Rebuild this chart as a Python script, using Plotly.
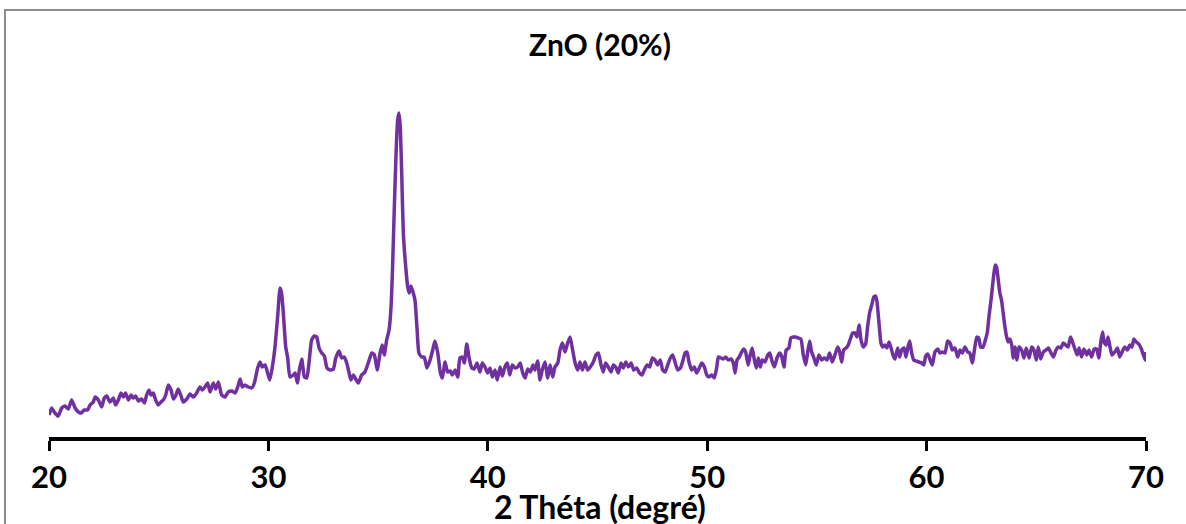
import plotly.graph_objects as go

# X-ray diffraction pattern of ZnO (20%): 2θ (degrees) and intensity (arb. units)
two_theta = [
    20.00, 20.12, 20.27, 20.42, 20.58, 20.73, 20.88, 21.03, 21.19, 21.34,
    21.46, 21.61, 21.76, 21.87, 22.02, 22.10, 22.25, 22.40, 22.52, 22.63,
    22.78, 22.93, 23.04, 23.16, 23.28, 23.39, 23.49, 23.62, 23.74, 23.84,
    23.95, 24.07, 24.22, 24.35, 24.45, 24.56, 24.65, 24.75, 24.86, 24.98,
    25.10, 25.21, 25.32, 25.44, 25.56, 25.67, 25.77, 25.89, 26.02, 26.12,
    26.28, 26.43, 26.58, 26.73, 26.88, 26.99, 27.11, 27.23, 27.34, 27.49,
    27.60, 27.72, 27.87, 28.02, 28.17, 28.33, 28.48, 28.60, 28.71, 28.81,
    28.93, 29.08, 29.24, 29.36, 29.51, 29.62, 29.72, 29.85,
    30.06, 30.18, 30.30, 30.42, 30.53, 30.60, 30.68, 30.79, 30.88, 30.98,
    31.14, 31.22, 31.32, 31.41, 31.52, 31.64, 31.75, 31.85, 31.97, 32.09,
    32.20, 32.31, 32.43, 32.55, 32.67, 32.81, 32.96, 33.07, 33.22, 33.34,
    33.46, 33.57, 33.67, 33.76, 33.87, 33.98, 34.10, 34.25, 34.40, 34.55,
    34.71, 34.83, 34.96, 35.09, 35.19, 35.28, 35.39, 35.50, 35.59, 35.66,
    35.74, 35.82, 35.89, 35.95, 36.01, 36.08, 36.15, 36.26, 36.35, 36.42,
    36.50, 36.59, 36.68, 36.77, 36.86, 36.99, 37.10, 37.23, 37.37, 37.49,
    37.59, 37.72, 37.84, 37.93, 38.05, 38.17, 38.29, 38.38, 38.51, 38.63,
    38.73, 38.84, 38.93, 39.04, 39.14, 39.27, 39.38, 39.51, 39.64, 39.75,
    39.87,
    39.99, 40.10, 40.21, 40.33, 40.43, 40.56, 40.66, 40.78, 40.89, 41.00,
    41.12, 41.24, 41.36, 41.48, 41.59, 41.70, 41.82, 41.94, 42.06, 42.15,
    42.27, 42.38, 42.48, 42.61, 42.73, 42.84, 42.96, 43.06, 43.19, 43.29,
    43.40, 43.52, 43.64, 43.75, 43.85, 43.98, 44.10, 44.20, 44.31, 44.43,
    44.55, 44.67, 44.81, 44.93, 45.04, 45.16, 45.26, 45.37, 45.49, 45.62,
    45.72, 45.83, 45.95, 46.07, 46.18, 46.29, 46.41, 46.53, 46.65, 46.79,
    46.91, 47.02, 47.13, 47.26, 47.38, 47.50, 47.62, 47.74, 47.86, 47.97,
    48.08, 48.20, 48.32, 48.43, 48.53, 48.66, 48.78, 48.90, 48.99, 49.08,
    49.17, 49.29, 49.41, 49.52, 49.64, 49.75, 49.87, 49.98, 50.08,
    50.20, 50.32, 50.43, 50.51, 50.63, 50.73, 50.84, 50.96, 51.08, 51.19,
    51.27, 51.36, 51.46, 51.57, 51.66, 51.75, 51.87, 51.96, 52.05, 52.15,
    52.24, 52.33, 52.42, 52.51, 52.63, 52.76, 52.85, 52.94, 53.06, 53.18,
    53.30, 53.39, 53.50, 53.60, 53.72, 53.81, 53.92, 54.03, 54.15, 54.27,
    54.38, 54.49, 54.58, 54.67, 54.76, 54.85, 54.97, 55.09, 55.22, 55.34,
    55.46, 55.58, 55.70, 55.82, 55.95, 56.04, 56.13, 56.22, 56.33, 56.43,
    56.54, 56.63, 56.74, 56.83, 56.92, 57.01, 57.11, 57.22, 57.31, 57.41,
    57.50, 57.59, 57.68, 57.74, 57.83, 57.92, 58.01, 58.10, 58.19, 58.29,
    58.38, 58.47, 58.56, 58.68, 58.77, 58.86, 58.97, 59.06, 59.14, 59.23,
    59.32, 59.41, 59.53, 59.65, 59.78, 59.87, 59.96,
    60.05, 60.16, 60.26, 60.38, 60.51, 60.61, 60.72, 60.84, 60.96, 61.07,
    61.17, 61.29, 61.42, 61.52, 61.63, 61.75, 61.87, 61.97, 62.08, 62.20,
    62.29, 62.38, 62.46, 62.57, 62.68, 62.77, 62.84, 62.92, 63.00, 63.07,
    63.13, 63.19, 63.25, 63.34, 63.42, 63.49, 63.57, 63.65, 63.72, 63.80,
    63.88, 63.95, 64.03, 64.12, 64.21, 64.33, 64.44, 64.54, 64.67, 64.79,
    64.89, 65.00, 65.09, 65.20, 65.32, 65.44, 65.55, 65.67, 65.78, 65.90,
    66.00, 66.12, 66.23, 66.34, 66.45, 66.56, 66.65, 66.76, 66.86, 66.95,
    67.06, 67.17, 67.30, 67.40, 67.52, 67.64, 67.75, 67.85, 67.94, 68.02,
    68.09, 68.18, 68.27, 68.36, 68.45, 68.58, 68.70, 68.80, 68.91, 69.03,
    69.15, 69.26, 69.36, 69.45, 69.56, 69.67, 69.79, 69.88, 69.97, 70.00,
]

intensity = [
    22, 29, 24, 21, 29, 31, 28, 37, 29, 25,
    24, 27, 27, 32, 35, 40, 37, 30, 39, 41,
    35, 39, 32, 37, 44, 40, 44, 37, 42, 39,
    41, 36, 38, 34, 42, 47, 42, 44, 37, 32,
    35, 37, 42, 52, 47, 38, 41, 48, 41, 35,
    38, 43, 40, 44, 50, 47, 50, 54, 45, 54,
    48, 55, 42, 40, 45, 46, 44, 50, 58, 50,
    52, 50, 49, 54, 69, 75, 70, 72,
    57, 70, 90, 120, 149, 144, 124, 90, 79, 60,
    62, 64, 54, 67, 78, 60, 59, 74, 97, 101,
    100, 89, 84, 81, 69, 67, 68, 79, 86, 79,
    80, 74, 65, 57, 62, 58, 54, 62, 65, 74,
    84, 82, 67, 84, 92, 82, 97, 107, 130, 170,
    230, 284, 317, 324, 310, 260, 204, 170, 150, 144,
    151, 145, 137, 110, 84, 80, 80, 69, 77, 87,
    96, 84, 64, 59, 75, 65, 66, 62, 67, 60,
    79, 80, 74, 93, 80, 69, 68, 74, 65, 74,
    70,
    64, 69, 60, 67, 57, 70, 61, 70, 74, 62,
    72, 69, 70, 74, 64, 59, 68, 65, 72, 67,
    76, 57, 67, 75, 59, 72, 60, 70, 74, 87,
    94, 85, 94, 100, 89, 74, 67, 75, 67, 75,
    67, 70, 75, 82, 84, 72, 65, 74, 70, 65,
    72, 70, 64, 74, 69, 75, 70, 74, 67, 69,
    64, 62, 67, 72, 70, 79, 77, 72, 77, 67,
    65, 72, 79, 82, 75, 67, 69, 77, 84, 85,
    75, 67, 70, 64, 69, 74, 70, 62, 60,
    62, 59, 69, 80, 79, 78, 80, 77, 78, 74,
    64, 77, 80, 85, 88, 85, 72, 82, 89, 77,
    69, 79, 70, 77, 75, 82, 84, 77, 70, 79,
    84, 81, 70, 87, 89, 99, 100, 100, 99, 98,
    82, 72, 85, 96, 85, 80, 72, 82, 77, 79,
    77, 84, 75, 82, 90, 85, 75, 87, 89, 92,
    99, 104, 104, 100, 112, 97, 90, 93, 110, 125,
    132, 140, 141, 135, 114, 94, 90, 92, 89, 95,
    89, 82, 78, 89, 80, 87, 89, 80, 89, 96,
    84, 77, 76, 75, 74, 72, 81,
    83, 77, 72, 85, 88, 84, 85, 84, 96, 94,
    87, 89, 80, 87, 84, 90, 85, 84, 74, 90,
    100, 99, 90, 90, 97, 105, 120, 134, 150, 164,
    172, 170, 160, 144, 136, 124, 110, 100, 95, 98,
    92, 79, 90, 77, 90, 87, 79, 89, 79, 90,
    87, 77, 90, 78, 85, 87, 89, 84, 80, 87,
    90, 89, 94, 92, 90, 100, 95, 88, 82, 89,
    80, 88, 82, 87, 80, 88, 88, 79, 95, 105,
    95, 92, 100, 90, 82, 85, 89, 80, 85, 90,
    87, 92, 90, 98, 95, 93, 88, 82, 77, 85,
]

x_ticks = [20, 30, 40, 50, 60, 70]
chart_title = "ZnO (20%)"
x_title = "2 Théta (degré)"

LINE_COLOR = "#7030A0"
FONT = "Lato, 'Open Sans', sans-serif"

W, H = 1186, 524
M_L, M_R, M_T, M_B = 49, 40, 97, 87
plot_w = W - M_L - M_R
plot_h = H - M_T - M_B

fig = go.Figure(
    go.Scatter(
        x=two_theta,
        y=intensity,
        mode="lines",
        line=dict(color=LINE_COLOR, width=3.5, shape="spline", smoothing=0.5),
        hoverinfo="x+y",
        showlegend=False,
    )
)


def px_to_paper_x(px):
    return (px - M_L) / plot_w


def px_to_paper_y(py):
    return (H - M_B - py) / plot_h


# Outer chart frame
fig.add_shape(
    type="rect",
    xref="paper", yref="paper",
    x0=px_to_paper_x(5), x1=px_to_paper_x(W + 20),
    y0=px_to_paper_y(H + 20), y1=px_to_paper_y(10),
    line=dict(color="#8c8c8c", width=2),
    fillcolor="rgba(0,0,0,0)",
    layer="below",
)

# X-axis title, placed just under the tick labels
fig.add_annotation(
    text=x_title,
    xref="paper", yref="paper",
    x=px_to_paper_x(600), y=px_to_paper_y(506),
    xanchor="center", yanchor="middle",
    showarrow=False,
    font=dict(family=FONT, size=32, color="black", weight="bold"),
)

fig.update_layout(
    width=W,
    height=H,
    autosize=False,
    margin=dict(l=M_L, r=M_R, t=M_T, b=M_B, pad=0, autoexpand=False),
    paper_bgcolor="white",
    plot_bgcolor="white",
    title=dict(
        text=chart_title,
        xref="container", yref="container",
        x=600 / W, y=1 - 45 / H,
        xanchor="center", yanchor="middle",
        font=dict(family=FONT, size=30, color="black", weight="bold"),
    ),
    xaxis=dict(
        range=[20, 70],
        automargin=False,
        tickmode="array",
        tickvals=x_ticks,
        ticktext=[str(v) for v in x_ticks],
        showgrid=False,
        zeroline=False,
        showline=True,
        linecolor="black",
        linewidth=3.5,
        ticks="outside",
        ticklen=10,
        tickwidth=3,
        tickcolor="black",
        ticklabelstandoff=0,
        tickfont=dict(family=FONT, size=31, color="black", weight="bold"),
    ),
    yaxis=dict(
        range=[0, 340],
        visible=False,
        showgrid=False,
        zeroline=False,
    ),
)

fig.write_html("out.html")
